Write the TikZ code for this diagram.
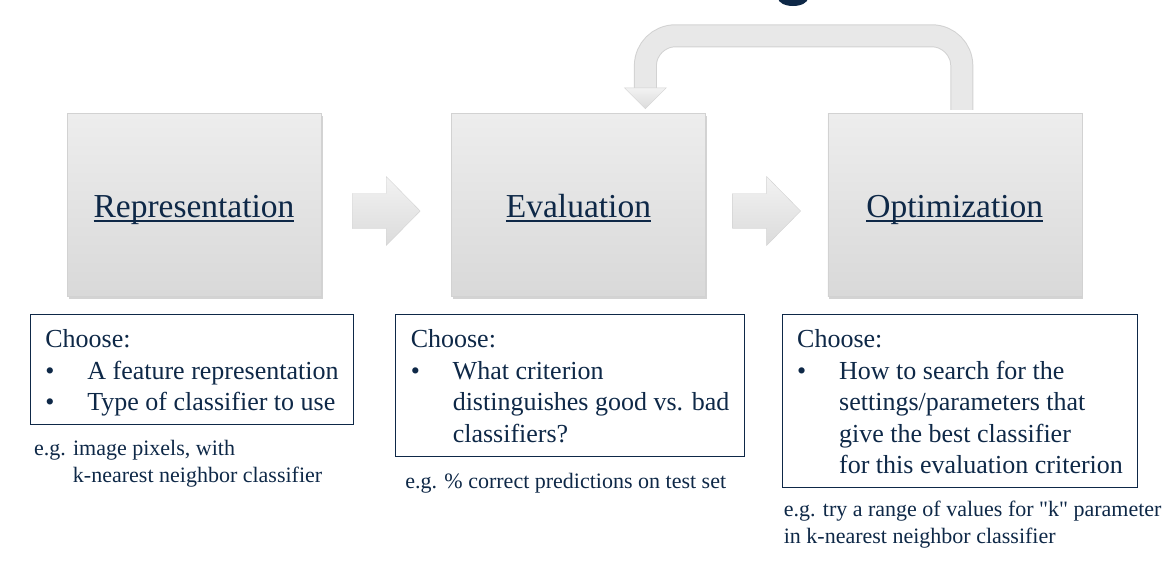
\documentclass[tikz,border=0pt]{standalone}
\usepackage{fontspec}
\setmainfont{Liberation Serif}
\usetikzlibrary{positioning,calc,shadows}
\definecolor{navy}{HTML}{0E2847}
\definecolor{edge}{HTML}{D2D2D2}
\definecolor{band}{HTML}{E8E8E8}
\newcommand{\ulword}[1]{\setbox0\hbox{#1}\rlap{\rule[-4.5pt]{\wd0}{1.7pt}}\box0}
\newcommand{\bul}{\makebox[42pt][l]{\textbullet}}
\newcommand{\ind}{\hspace*{42pt}}
\begin{document}
\begin{tikzpicture}[x=1pt,y=-1pt,
    stage/.style={draw=edge,top color=white!93!black,bottom color=white!85!black,
        minimum width=254pt,minimum height=183pt,text=navy,text height=33pt,text depth=7pt,
        drop shadow={shadow xshift=1.5pt,shadow yshift=-2.5pt,opacity=.35},
        font=\fontsize{33.5}{40}\selectfont},
    choose/.style={draw=navy,line width=1.1pt,text=navy,align=left,anchor=north west,
        inner xsep=15pt,inner ysep=14pt,text depth=0pt,font=\fontsize{26}{31.5}\selectfont},
    note/.style={text=navy,align=left,anchor=north west,inner sep=0pt,
        font=\fontsize{22}{27}\selectfont},
    flat/.style={draw=edge,top color=white!95!black,bottom color=white!86!black}]
    \useasboundingbox (0,0) rectangle (1175,566);
    \fill[navy] (793,-2) ellipse [x radius=15pt,y radius=8pt];
    \node[stage] (rep) at (194,204.5) {\ulword{Representation}};
    \node[stage,right=130pt of rep] (eval) {\ulword{Evaluation}};
    \node[stage,right=122pt of eval] (opt) {\ulword{Optimization}};
    \foreach \a/\b in {rep/eval,eval/opt}
        \path[flat] ($(\a.east)!.5!(\b.west)+(-34,-11)$) -- ++(34,0) -- ++(0,-17)
            -- ++(34,34.5) -- ++(-34,34.5) -- ++(0,-17) -- ++(-34,0) -- cycle;
    \coordinate (fbout) at ($(opt.north)+(7,-3)$);
    \coordinate (fbin) at ($(eval.north)+(67,-4)$);
    \draw[edge,line width=1pt,double=band,double distance=21pt,rounded corners=30pt]
        (fbout) -- ++(0,-74) -| ($(fbin)+(0,-20)$);
    \path[flat] (fbin) -- ++(-21,-21) -- ++(42,0) -- cycle;
    \node[choose] (repc) at ($(rep.south west)+(-37,18)$)
        {\rule{0pt}{19pt}Choose:\\ \bul A feature representation\\ \bul Type of classifier to use};
    \node[choose] (evalc) at ($(eval.south west)+(-56,18)$)
        {\rule{0pt}{19pt}Choose:\\ \bul What criterion\\ \ind distinguishes good vs. bad\\ \ind classifiers?};
    \node[choose] (optc) at ($(opt.south west)+(-46,18)$)
        {\rule{0pt}{19pt}Choose:\\ \bul How to search for the\\ \ind settings/parameters that\\
         \ind give the best classifier\\ \ind for this evaluation criterion};
    \node[note] (repn) at ($(repc.south west)+(4,15)$)
        {e.g. image pixels, with\\ \hspace*{39pt}k-nearest neighbor classifier};
    \node[note] (evaln) at ($(evalc.south west)+(10,16)$) {e.g. \% correct predictions on test set};
    \node[note] (optn) at ($(optc.south west)+(2,12)$)
        {e.g. try a range of values for \textquotedbl k\textquotedbl{} parameter\\ in k-nearest neighbor classifier};
\end{tikzpicture}
\end{document}
